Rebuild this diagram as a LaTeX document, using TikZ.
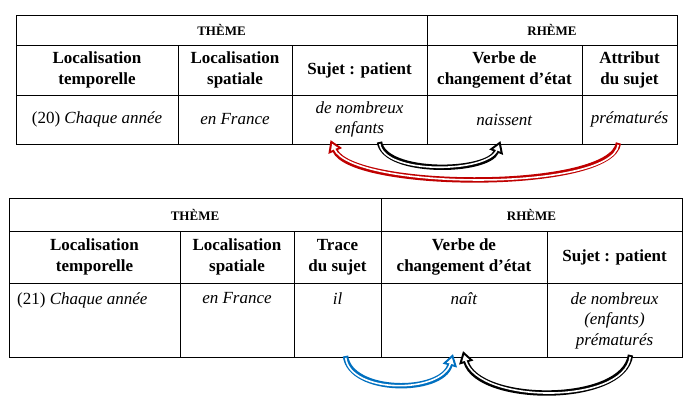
\documentclass[tikz,border=0pt]{standalone}
\usepackage{fontspec}
\setmainfont{Liberation Serif}
\usetikzlibrary{arrows.meta}
\definecolor{arrred}{RGB}{192,0,0}
\definecolor{arrblue}{RGB}{0,112,192}
\tikzset{
  cell/.style={draw, line width=0.8pt, anchor=north west, inner sep=0pt, outer sep=0pt},
  head/.style={font=\bfseries\fontsize{13}{15}\selectfont},
  colh/.style={font=\bfseries\fontsize{17}{20.5}\selectfont, align=center, inner sep=0pt},
  dat/.style={font=\fontsize{17}{20.5}\selectfont, align=center, inner sep=0pt},
  outerarr/.style={line width=5.4pt, -{Triangle[length=12pt, width=14pt]}},
  innerarr/.style={draw=white, line width=1.6pt, shorten >=4pt, shorten <=1.9pt,
     -{Triangle[length=6pt, width=7pt]}},
}
\newcommand{\hollowarr}[2]{%
  \draw[outerarr, draw=#1] #2;
  \draw[innerarr] #2;}
\begin{document}
\begin{tikzpicture}[x=1pt,y=-1pt]
\useasboundingbox (0,0) rectangle (694,408);
\fill[white] (0,0) rectangle (694,408);
% ---------- table (20)
\node[cell, minimum width=411pt, minimum height=30pt] (aT) at (16,15) {};
\node[cell, minimum width=250pt, minimum height=30pt] (aR) at (427,15) {};
\node[cell, minimum width=162pt, minimum height=50pt] (ah1) at (16,45) {};
\node[cell, minimum width=114pt, minimum height=50pt] (ah2) at (178,45) {};
\node[cell, minimum width=135pt, minimum height=50pt] (ah3) at (292,45) {};
\node[cell, minimum width=155pt, minimum height=50pt] (ah4) at (427,45) {};
\node[cell, minimum width=95pt, minimum height=50pt] (ah5) at (582,45) {};
\node[cell, minimum width=162pt, minimum height=49pt] (ad1) at (16,95) {};
\node[cell, minimum width=114pt, minimum height=49pt] (ad2) at (178,95) {};
\node[cell, minimum width=135pt, minimum height=49pt] (ad3) at (292,95) {};
\node[cell, minimum width=155pt, minimum height=49pt] (ad4) at (427,95) {};
\node[cell, minimum width=95pt, minimum height=49pt] (ad5) at (582,95) {};
\node[head] (aTt) at (aT.center) {THÈME};
\node[head] (aRt) at (aR.center) {RHÈME};
\node[colh] (ah1t) at (ah1.center) {Localisation\\temporelle};
\node[colh] (ah2t) at (ah2.center) {Localisation\\spatiale};
\node[colh] (ah3t) at (ah3.center) {Sujet : patient};
\node[colh] (ah4t) at (ah4.center) {Verbe de\\changement d’état};
\node[colh] (ah5t) at (ah5.center) {Attribut\\du sujet};
\node[dat] (ad1t) at (ad1.center) {(20) \textit{Chaque année}};
\node[dat] (ad2t) at (ad2.center) {\textit{en France}};
\node[dat] (ad3t) at (ad3.center) {\textit{de nombreux}\\\textit{enfants}};
\node[dat] (ad4t) at (ad4.center) {\textit{naissent}};
\node[dat] (ad5t) at (ad5.center) {\textit{prématurés}};
% ---------- table (21)
\node[cell, minimum width=372pt, minimum height=33pt] (bT) at (9,198) {};
\node[cell, minimum width=301pt, minimum height=33pt] (bR) at (381,198) {};
\node[cell, minimum width=171pt, minimum height=52pt] (bh1) at (9,231) {};
\node[cell, minimum width=114pt, minimum height=52pt] (bh2) at (180,231) {};
\node[cell, minimum width=87pt, minimum height=52pt] (bh3) at (294,231) {};
\node[cell, minimum width=166pt, minimum height=52pt] (bh4) at (381,231) {};
\node[cell, minimum width=135pt, minimum height=52pt] (bh5) at (547,231) {};
\node[cell, minimum width=171pt, minimum height=74pt] (bd1) at (9,283) {};
\node[cell, minimum width=114pt, minimum height=74pt] (bd2) at (180,283) {};
\node[cell, minimum width=87pt, minimum height=74pt] (bd3) at (294,283) {};
\node[cell, minimum width=166pt, minimum height=74pt] (bd4) at (381,283) {};
\node[cell, minimum width=135pt, minimum height=74pt] (bd5) at (547,283) {};
\node[head] (bTt) at (bT.center) {THÈME};
\node[head] (bRt) at (bR.center) {RHÈME};
\node[colh] (bh1t) at (bh1.center) {Localisation\\temporelle};
\node[colh] (bh2t) at (bh2.center) {Localisation\\spatiale};
\node[colh] (bh3t) at (bh3.center) {Trace\\du sujet};
\node[colh] (bh4t) at (bh4.center) {Verbe de\\changement d’état};
\node[colh] (bh5t) at (bh5.center) {Sujet : patient};
\node[dat, anchor=north west] (bd1t) at ([xshift=8pt,yshift=-9pt]bd1.north west) {(21) \textit{Chaque année}};
\node[dat, anchor=north] (bd2t) at ([yshift=-9pt]bd2.north) {\textit{en France}};
\node[dat, anchor=north] (bd3t) at ([yshift=-9pt]bd3.north) {\textit{il}};
\node[dat, anchor=north] (bd4t) at ([yshift=-9pt]bd4.north) {\textit{naît}};
\node[dat, anchor=north] (bd5t) at ([yshift=-9pt]bd5.north) {\textit{de nombreux}\\\textit{(enfants)}\\\textit{prématurés}};
% ---------- arrows
\hollowarr{black}{([xshift=20pt,yshift=2pt]ad3.south) .. controls (384,175) and (488,173) .. ([xshift=-4pt,yshift=3pt]ad4.south)}
\hollowarr{arrred}{([xshift=-11pt,yshift=1pt]ad5.south) .. controls (612,192) and (352,190) .. ([xshift=-29pt,yshift=4pt]ad3.south)}
\hollowarr{arrblue}{([xshift=8pt,yshift=1pt]bd3.south) .. controls (350,394) and (442,394) .. ([xshift=-11pt,yshift=3pt]bd4.south)}
\hollowarr{black}{([xshift=16pt,yshift=2pt]bd5.south) .. controls (624,405) and (478,404) .. ([xshift=-1pt,yshift=6pt]bd4.south)}
\end{tikzpicture}
\end{document}
